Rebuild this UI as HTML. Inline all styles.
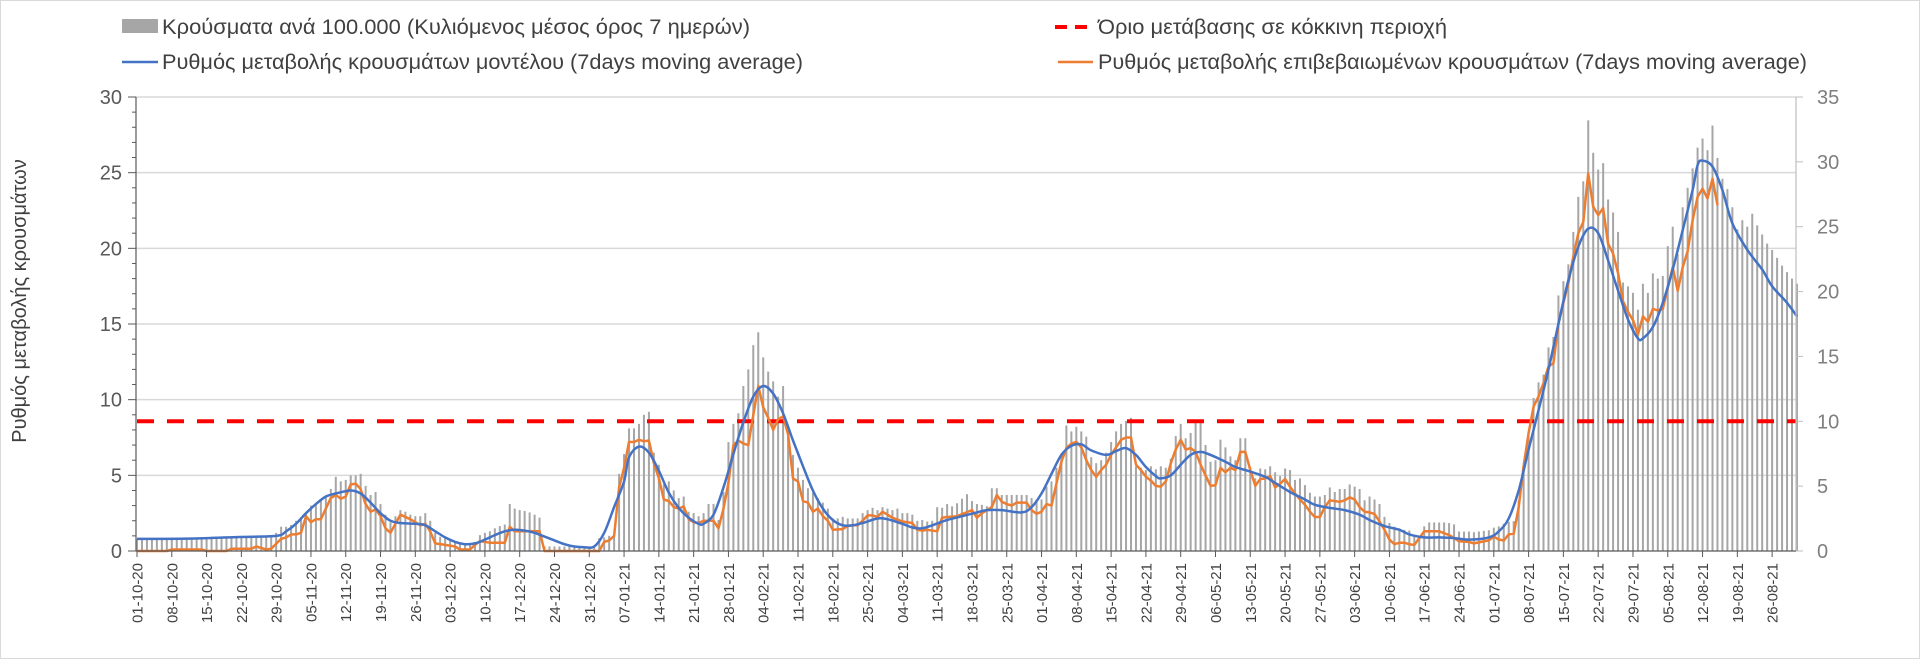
<!DOCTYPE html>
<html><head><meta charset="utf-8"><style>
html,body{margin:0;padding:0;background:#fff;}
svg{display:block;font-family:"Liberation Sans",sans-serif;}
</style></head><body>
<svg id="chart" width="1920" height="661" viewBox="0 0 1920 661" xmlns="http://www.w3.org/2000/svg">
<rect x="0.5" y="0.5" width="1919" height="658" fill="#fff" stroke="#d9d9d9"/>
<g id="grid"></g>
<g id="bars"></g>
<g id="lines"></g>
<g id="axes"></g>
<text transform="translate(26,301) rotate(-90)" text-anchor="middle" font-size="20" fill="#404040">Ρυθμός μεταβολής κρουσμάτων</text>
<g>
 <g>
  <rect x="122" y="19" width="36" height="14" fill="#a6a6a6"/>
  <text x="162" y="34" font-size="21" fill="#404040" textLength="588" lengthAdjust="spacingAndGlyphs">Κρούσματα ανά 100.000 (Κυλιόμενος μέσος όρος 7 ημερών)</text>
 </g>
 <g>
  <line x1="122" y1="62" x2="158" y2="62" stroke="#4472c4" stroke-width="2.5"/>
  <text x="162" y="69" font-size="21" fill="#404040" textLength="641" lengthAdjust="spacingAndGlyphs">Ρυθμός μεταβολής κρουσμάτων μοντέλου (7days moving average)</text>
 </g>
 <g>
  <line x1="1055" y1="27" x2="1093" y2="27" stroke="#ff0000" stroke-width="4" stroke-dasharray="12,8"/>
  <text x="1098" y="34" font-size="21" fill="#404040" textLength="349" lengthAdjust="spacingAndGlyphs">Όριο μετάβασης σε κόκκινη περιοχή</text>
 </g>
 <g>
  <line x1="1058" y1="62" x2="1093" y2="62" stroke="#ed7d31" stroke-width="2.5"/>
  <text x="1098" y="69" font-size="21" fill="#404040" textLength="709" lengthAdjust="spacingAndGlyphs">Ρυθμός μεταβολής επιβεβαιωμένων κρουσμάτων (7days moving average)</text>
 </g>
</g>
</svg>
<script>
// x tick labels (weekly)
const dateLabels = ["01-10-20","08-10-20","15-10-20","22-10-20","29-10-20","05-11-20","12-11-20","19-11-20","26-11-20","03-12-20","10-12-20","17-12-20","24-12-20","31-12-20","07-01-21","14-01-21","21-01-21","28-01-21","04-02-21","11-02-21","18-02-21","25-02-21","04-03-21","11-03-21","18-03-21","25-03-21","01-04-21","08-04-21","15-04-21","22-04-21","29-04-21","06-05-21","13-05-21","20-05-21","27-05-21","03-06-21","10-06-21","17-06-21","24-06-21","01-07-21","08-07-21","15-07-21","22-07-21","29-07-21","05-08-21","12-08-21","19-08-21","26-08-21"];
const leftTicks = [0,5,10,15,20,25,30];
const rightTicks = [0,5,10,15,20,25,30,35];
const thresholdValue = 10; // right axis
// daily cases per 100k (right axis), one per day from 01-10-20
const casesDaily = [
.93,.93,.93,.93,.93,.93,.93,.93,.93,.93,
.93,.93,.93,.93,1.0,1.0,1.05,1.05,1.05,1.05,
1.05,1.1,1.1,1.1,1.1,1.1,1.1,1.1,1.4,1.87,
1.87,2.0,2.33,2.57,2.92,3.5,3.62,3.97,4.2,4.78,
5.72,5.37,5.48,5.83,5.83,5.95,5.02,4.32,4.55,3.62,
2.8,2.22,2.68,3.15,3.03,2.8,2.68,2.68,2.92,2.33,
1.4,1.1,1.05,.93,.64,.64,.52,.58,.7,1.22,
1.4,1.52,1.75,1.92,2.04,3.62,3.27,3.15,3.09,2.97,
2.8,2.57,.35,.35,.35,.35,.35,.35,.35,.35,
.35,.35,.35,.99,1.05,1.17,1.28,5.95,7.47,9.45,
9.45,9.8,10.5,10.73,7.58,6.65,5.13,5.37,4.67,4.08,
4.2,3.03,2.92,2.68,2.92,3.62,3.62,2.39,4.55,8.4,
9.8,10.62,12.72,14.0,15.87,16.86,14.93,13.83,13.07,11.9,
12.72,9.1,7.41,6.42,5.48,4.84,4.49,4.08,3.73,3.27,
2.51,2.51,2.63,2.51,2.51,2.51,2.92,3.15,3.33,3.15,
3.38,3.27,3.15,3.27,2.92,2.92,2.8,2.33,2.39,2.27,
2.33,3.38,3.33,3.62,3.44,3.68,4.03,4.38,3.85,3.62,
3.56,3.44,4.84,4.84,4.32,4.32,4.32,4.32,4.32,4.32,
4.08,3.97,3.97,4.96,5.37,6.42,7.53,9.68,9.22,9.57,
9.22,8.81,7.23,6.77,7.0,7.58,8.4,9.22,9.8,10.03,
10.27,6.53,6.42,6.24,6.53,6.3,6.53,6.42,7.12,8.87,
9.8,8.69,9.1,9.86,9.86,8.17,6.88,7.0,8.58,7.99,
7.29,7.0,8.69,8.69,6.42,5.6,6.36,6.3,6.53,6.07,
5.78,6.36,6.24,5.48,5.6,5.08,4.49,4.2,4.2,4.32,
4.9,4.55,4.78,4.78,5.13,4.96,4.78,3.91,4.2,3.97,
3.62,2.63,2.16,1.87,1.75,1.63,1.58,1.23,1.17,1.9,
2.2,2.2,2.2,2.2,2.15,2.05,1.5,1.5,1.5,1.45,
1.5,1.55,1.6,1.8,1.9,2.1,2.25,2.3,3.9,6.45,
8.95,11.8,13.0,13.6,15.7,16.5,19.7,20.8,22.1,24.6,
27.3,28.5,33.2,30.7,29.4,29.9,27.1,26.1,24.6,20.7,
20.4,19.9,18.6,20.6,19.9,21.4,21.0,21.2,23.5,25.0,
22.9,26.5,28.0,29.5,31.1,31.8,30.9,32.8,30.3,28.7,
27.9,26.5,24.8,25.5,25.0,26.0,25.1,24.4,23.7,23.2,
22.6,22.0,21.5,21.0,20.6];
// model rate (left axis): day index and value
const modelDays = [0,10,20,28,30,32,34,36,38,40,43,45,47,49,51,53,56,58,60,62,64,66,68,70,72,74,76,78,80,82,84,86,88,90,92,94,96,98,99,101,103,105,107,109,111,113,114,116,118,120,122,124,126,128,130,132,134,136,138,140,142,144,146,149,151,154,156,158,160,163,166,169,171,174,178,180,182,184,186,188,190,192,195,197,199,201,203,205,206,208,210,212,214,216,219,221,224,227,229,232,235,237,240,243,246,248,251,254,256,259,262,265,268,272,274,276,278,280,282,284,286,288,290,292,294,296,298,300,302,303,305,307,309,311,313,314,315,317,319,321,324,327,329,332,334];
const modelRate = [.8,.82,.92,1.0,1.3,1.8,2.5,3.1,3.6,3.8,4.0,3.8,3.2,2.5,2.0,1.85,1.8,1.7,1.3,.9,.6,.45,.5,.75,1.05,1.3,1.4,1.35,1.2,.95,.7,.45,.3,.25,.3,1.2,2.9,4.6,6.2,6.9,6.5,5.3,3.85,2.85,2.2,1.8,1.8,2.4,4.2,6.4,8.5,10.2,10.9,10.4,9.1,7.3,5.6,4.0,2.8,2.05,1.7,1.7,1.85,2.15,2.1,1.8,1.55,1.5,1.7,2.05,2.3,2.55,2.7,2.7,2.55,2.9,3.8,5.1,6.35,6.95,7.05,6.65,6.35,6.6,6.8,6.35,5.55,4.95,4.8,5.0,5.7,6.35,6.55,6.35,5.9,5.55,5.25,4.9,4.5,3.9,3.4,3.05,2.85,2.7,2.4,2.05,1.65,1.4,1.1,.9,.9,.85,.75,.9,1.3,2.15,4.0,6.7,9.3,12.0,15.0,17.9,20.1,21.3,21.0,19.2,17.2,15.3,14.05,14.05,14.8,16.4,18.6,21.2,23.85,25.5,25.8,25.4,23.85,21.65,19.9,18.6,17.5,16.4,15.5];
// confirmed rate (left axis): day index and value
const confDays = [0,6,7,13,14,18,19,23,24,26,27,29,30,31,32,33,34,35,36,37,39,40,41,42,43,44,45,46,47,48,49,50,51,53,55,56,57,58,59,60,62,64,65,67,68,69,71,74,75,76,81,82,93,94,95,96,97,98,99,100,101,102,103,104,105,106,107,108,109,110,111,112,113,114,116,117,118,119,120,121,122,123,124,125,126,127,128,129,130,131,132,133,134,135,136,137,138,139,140,142,143,144,145,146,147,148,149,150,151,152,154,156,157,158,159,161,162,163,165,168,169,170,172,173,174,175,176,177,179,180,181,182,183,184,185,186,187,188,189,190,191,192,193,194,195,196,197,198,199,200,201,202,203,204,205,206,207,208,209,210,211,212,213,214,215,216,217,218,219,220,221,222,223,224,225,226,227,228,229,230,231,232,233,234,235,236,237,238,239,240,241,242,243,244,245,246,247,248,249,250,251,252,253,254,255,256,257,258,259,262,264,266,268,269,272,273,274,275,276,277,278,279,280,281,282,283,284,285,286,287,288,289,290,291,292,293,294,295,296,297,298,299,300,301,302,303,304,305,306,307,308,309,310,311,312,313,314,315,316,317,318];
const confRate = [0,0,.1,.1,0,0,.15,.15,.3,.1,.15,.8,.9,1.1,1.1,1.2,2.3,1.9,2.1,2.1,3.5,3.7,3.45,3.6,4.4,4.45,4.1,3.1,2.6,2.75,2.3,1.5,1.2,2.4,2.1,1.9,1.7,1.8,1.3,.5,.4,.3,.1,.1,.4,.65,.55,.55,1.6,1.3,1.3,0,0,.6,.7,1.0,4.2,5.5,7.2,7.2,7.35,7.25,7.3,5.8,4.8,3.4,3.3,2.9,2.8,2.95,2.1,1.9,1.85,2.0,2.0,1.5,2.8,4.5,7.0,7.3,7.1,7.0,9.0,10.9,9.5,8.8,8.0,8.7,8.9,7.7,4.8,4.6,3.3,3.2,2.6,2.8,2.3,2.0,1.4,1.45,1.65,1.7,1.7,2.0,2.35,2.35,2.25,2.6,2.4,2.2,1.95,1.85,1.4,1.35,1.4,1.3,2.2,2.25,2.3,2.7,2.2,2.5,2.9,3.7,3.25,3.1,3.0,3.2,3.2,2.7,2.45,2.6,3.1,3.0,4.45,5.9,6.8,7.1,7.2,6.85,6.0,5.35,4.9,5.35,5.7,6.35,6.85,7.35,7.5,7.5,5.7,5.35,4.9,4.65,4.3,4.25,4.6,5.8,6.7,7.35,6.7,6.8,6.55,5.7,5.0,4.3,4.35,5.5,5.2,5.5,5.35,6.55,6.55,5.35,4.3,4.75,4.8,4.95,4.2,4.45,4.75,4.25,3.8,3.4,3.05,2.6,2.25,2.25,2.9,3.35,3.3,3.25,3.35,3.55,3.4,2.9,2.6,2.55,2.45,1.95,1.4,.75,.45,.55,.55,.45,.4,.85,1.3,1.3,1.05,.65,.6,.5,.7,.95,.75,.7,1.1,1.15,2.9,5.6,7.8,9.55,10.2,11.1,12.2,12.4,15.0,16.4,17.7,19.45,21.0,21.75,24.95,22.75,22.2,22.65,20.3,19.65,18.35,16.5,15.8,15.25,14.3,15.5,15.15,16.0,15.9,16.0,17.4,18.75,17.2,18.75,19.8,21.85,23.4,23.95,23.3,24.6,22.85];

const NS = "http://www.w3.org/2000/svg";
const X0 = 137, DX = 4.97, Y0 = 551, YT = 97, PL = 136, PR = 1796;
const xDay = d => X0 + DX * d;
const yLeft = v => Y0 - (Y0 - YT) * v / 30;
const yRight = v => Y0 - (Y0 - YT) * v / 35;
function mk(tag, attrs, parent) {
  const el = document.createElementNS(NS, tag);
  for (const k in attrs) el.setAttribute(k, attrs[k]);
  parent.appendChild(el);
  return el;
}
const grid = document.getElementById('grid');
const axes = document.getElementById('axes');
const barsG = document.getElementById('bars');
const linesG = document.getElementById('lines');

leftTicks.forEach(v => {
  if (v > 0) {
    const g = mk('line', {x1: PL, x2: PR, y1: yLeft(v), y2: yLeft(v), stroke: '#d9d9d9', 'stroke-width': 1.5}, grid);
    
    
  }
  const t = mk('text', {x: 122, y: yLeft(v) + 7, 'text-anchor': 'end', 'font-size': 20, fill: '#595959'}, axes);
  t.textContent = v;
  
  
});
for (let v = 0; v <= 30; v++) {
  const tk = mk('line', {x1: PL - (v % 5 ? 4 : 8), x2: PL, y1: yLeft(v), y2: yLeft(v), stroke: '#595959', 'stroke-width': 1}, axes);
  
  
}
rightTicks.forEach(v => {
  const tk = mk('line', {x1: PR, x2: PR + 7, y1: yRight(v), y2: yRight(v), stroke: '#bfbfbf', 'stroke-width': 1}, axes);
  
  
  const t = mk('text', {x: 1817, y: yRight(v) + 7, 'font-size': 20, fill: '#7f7f7f'}, axes);
  t.textContent = v;
  
  
});

// bars
casesDaily.forEach((v, d) => {
  const r = mk('rect', {x: xDay(d) - 1, y: yRight(v), width: 2, height: Y0 - yRight(v), fill: '#a6a6a6'}, barsG);
  
  
});

// threshold
const th = mk('line', {x1: PL + 1, x2: PR, y1: yRight(thresholdValue), y2: yRight(thresholdValue), stroke: '#ff0000', 'stroke-width': 4, 'stroke-dasharray': '17,13'}, linesG);



// smooth path helper
function smoothPath(pts) {
  let d = 'M' + pts[0][0] + ',' + pts[0][1];
  for (let i = 0; i < pts.length - 1; i++) {
    const p0 = pts[Math.max(0, i - 1)], p1 = pts[i], p2 = pts[i + 1], p3 = pts[Math.min(pts.length - 1, i + 2)];
    const c1x = p1[0] + (p2[0] - p0[0]) / 6, c1y = p1[1] + (p2[1] - p0[1]) / 6;
    const c2x = p2[0] - (p3[0] - p1[0]) / 6, c2y = p2[1] - (p3[1] - p1[1]) / 6;
    d += ' C' + c1x.toFixed(1) + ',' + c1y.toFixed(1) + ' ' + c2x.toFixed(1) + ',' + c2y.toFixed(1) + ' ' + p2[0].toFixed(1) + ',' + p2[1].toFixed(1);
  }
  return d;
}
const confPts = confDays.map((d, i) => xDay(d).toFixed(1) + ',' + yLeft(confRate[i]).toFixed(1)).join(' ');
const conf = mk('polyline', {points: confPts, fill: 'none', stroke: '#ed7d31', 'stroke-width': 2.5, 'stroke-linejoin': 'round'}, linesG);


const model = mk('path', {d: smoothPath(modelDays.map((d, i) => [xDay(d), yLeft(modelRate[i])])), fill: 'none', stroke: '#4472c4', 'stroke-width': 2.5}, linesG);



// axes lines
const la = mk('line', {x1: PL, x2: PL, y1: YT, y2: Y0, stroke: '#595959', 'stroke-width': 1.2}, axes);


const ra = mk('line', {x1: PR, x2: PR, y1: YT, y2: Y0, stroke: '#bfbfbf', 'stroke-width': 1.2}, axes);


const xa = mk('line', {x1: PL, x2: PR, y1: Y0, y2: Y0, stroke: '#595959', 'stroke-width': 1.2}, axes);


dateLabels.forEach((lab, i) => {
  const x = xDay(i * 7);
  const tk = mk('line', {x1: x, x2: x, y1: Y0, y2: Y0 + 6, stroke: '#595959', 'stroke-width': 1}, axes);
  
  
  const t = mk('text', {transform: 'translate(' + (x + 5.5).toFixed(1) + ',563) rotate(-90)', 'text-anchor': 'end', 'font-size': 15, fill: '#404040'}, axes);
  t.textContent = lab;
  
  
});
</script>
</body></html>
